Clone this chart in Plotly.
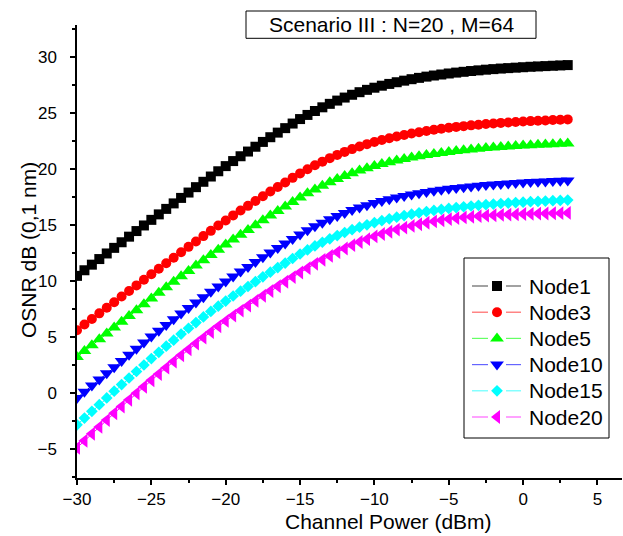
import plotly.graph_objects as go

# Channel power sweep (dBm)
channel_power = [
    -30.0, -29.5, -29.0, -28.5, -28.0, -27.5, -27.0, -26.5, -26.0, -25.5,
    -25.0, -24.5, -24.0, -23.5, -23.0, -22.5, -22.0, -21.5, -21.0, -20.5,
    -20.0, -19.5, -19.0, -18.5, -18.0, -17.5, -17.0, -16.5, -16.0, -15.5,
    -15.0, -14.5, -14.0, -13.5, -13.0, -12.5, -12.0, -11.5, -11.0, -10.5,
    -10.0, -9.5, -9.0, -8.5, -8.0, -7.5, -7.0, -6.5, -6.0, -5.5,
    -5.0, -4.5, -4.0, -3.5, -3.0, -2.5, -2.0, -1.5, -1.0, -0.5,
    0.0, 0.5, 1.0, 1.5, 2.0, 2.5, 3.0,
]

# OSNR (dB, 0.1 nm) per node
node1 = [
    10.50, 11.00, 11.50, 12.00, 12.50, 13.00, 13.50, 14.00, 14.50, 15.00,
    15.50, 15.99, 16.48, 16.97, 17.46, 17.94, 18.42, 18.90, 19.37, 19.84,
    20.30, 20.75, 21.18, 21.60, 22.03, 22.46, 22.88, 23.29, 23.69, 24.10,
    24.50, 24.87, 25.22, 25.55, 25.86, 26.15, 26.42, 26.67, 26.90, 27.11,
    27.30, 27.48, 27.64, 27.79, 27.93, 28.06, 28.18, 28.29, 28.39, 28.48,
    28.57, 28.65, 28.72, 28.79, 28.85, 28.91, 28.96, 29.01, 29.05, 29.09,
    29.13, 29.17, 29.20, 29.23, 29.26, 29.29, 29.32,
]
node3 = [
    5.65, 6.15, 6.65, 7.15, 7.65, 8.15, 8.65, 9.15, 9.65, 10.15,
    10.65, 11.14, 11.63, 12.12, 12.61, 13.09, 13.57, 14.05, 14.52, 14.99,
    15.45, 15.90, 16.33, 16.75, 17.18, 17.61, 18.03, 18.44, 18.84, 19.25,
    19.65, 20.02, 20.37, 20.70, 21.01, 21.30, 21.57, 21.82, 22.05, 22.26,
    22.45, 22.63, 22.79, 22.94, 23.08, 23.21, 23.33, 23.44, 23.54, 23.63,
    23.72, 23.80, 23.87, 23.94, 24.00, 24.06, 24.11, 24.16, 24.20, 24.24,
    24.28, 24.32, 24.35, 24.38, 24.41, 24.44, 24.47,
]
node5 = [
    3.25, 3.78, 4.30, 4.83, 5.35, 5.88, 6.40, 6.92, 7.44, 7.96,
    8.48, 8.99, 9.48, 9.97, 10.46, 10.94, 11.42, 11.90, 12.37, 12.84,
    13.30, 13.75, 14.18, 14.60, 15.03, 15.46, 15.88, 16.29, 16.69, 17.10,
    17.50, 17.87, 18.22, 18.55, 18.86, 19.15, 19.42, 19.67, 19.90, 20.11,
    20.30, 20.48, 20.64, 20.79, 20.93, 21.06, 21.18, 21.29, 21.39, 21.48,
    21.57, 21.65, 21.72, 21.79, 21.85, 21.91, 21.96, 22.01, 22.05, 22.09,
    22.13, 22.17, 22.20, 22.23, 22.26, 22.29, 22.32,
]
node10 = [
    -0.40, 0.15, 0.70, 1.25, 1.80, 2.35, 2.90, 3.45, 4.00, 4.54,
    5.08, 5.60, 6.12, 6.63, 7.14, 7.64, 8.12, 8.60, 9.07, 9.54,
    10.00, 10.45, 10.88, 11.30, 11.73, 12.16, 12.58, 12.99, 13.39, 13.80,
    14.20, 14.57, 14.92, 15.25, 15.56, 15.85, 16.12, 16.37, 16.60, 16.81,
    17.00, 17.18, 17.34, 17.49, 17.63, 17.76, 17.88, 17.99, 18.09, 18.18,
    18.27, 18.35, 18.42, 18.49, 18.55, 18.61, 18.66, 18.71, 18.75, 18.79,
    18.83, 18.87, 18.90, 18.93, 18.96, 18.99, 19.02,
]
node15 = [
    -2.80, -2.20, -1.60, -1.00, -0.40, 0.20, 0.79, 1.38, 1.96, 2.54,
    3.11, 3.67, 4.22, 4.76, 5.30, 5.82, 6.33, 6.83, 7.32, 7.79,
    8.25, 8.70, 9.13, 9.55, 9.98, 10.41, 10.83, 11.24, 11.64, 12.05,
    12.45, 12.82, 13.17, 13.50, 13.81, 14.10, 14.37, 14.62, 14.85, 15.06,
    15.25, 15.43, 15.59, 15.74, 15.88, 16.01, 16.13, 16.24, 16.34, 16.43,
    16.52, 16.60, 16.67, 16.74, 16.80, 16.86, 16.91, 16.96, 17.00, 17.04,
    17.08, 17.12, 17.15, 17.18, 17.21, 17.24, 17.27,
]
node20 = [
    -4.85, -4.22, -3.60, -2.99, -2.38, -1.77, -1.17, -0.57, 0.02, 0.60,
    1.18, 1.74, 2.30, 2.85, 3.40, 3.93, 4.46, 4.98, 5.49, 5.99,
    6.48, 6.95, 7.40, 7.84, 8.28, 8.72, 9.15, 9.57, 9.97, 10.39,
    10.80, 11.19, 11.57, 11.93, 12.28, 12.62, 12.94, 13.24, 13.52, 13.78,
    14.02, 14.24, 14.44, 14.63, 14.81, 14.96, 15.11, 15.24, 15.36, 15.47,
    15.57, 15.65, 15.72, 15.78, 15.83, 15.88, 15.91, 15.95, 15.97, 15.99,
    16.02, 16.04, 16.06, 16.07, 16.09, 16.10, 16.12,
]

series = [
    ("Node1", node1, "#000000", "square", 10),
    ("Node3", node3, "#FF0000", "circle", 10),
    ("Node5", node5, "#00FF00", "triangle-up", 12),
    ("Node10", node10, "#0000FF", "triangle-down", 12),
    ("Node15", node15, "#00FFFF", "diamond", 9),
    ("Node20", node20, "#FF00FF", "triangle-left", 12),
]

FONT = "Liberation Sans, Arial, sans-serif"

# Plot area in page pixels
PX_LEFT, PX_RIGHT, PX_TOP, PX_BOTTOM = 77, 622, 25, 478
W, H = 623, 536

fig = go.Figure()
for name, values, color, symbol, size in series:
    fig.add_trace(go.Scatter(
        x=channel_power, y=values, name=name, mode="lines+markers",
        line=dict(color=color, width=1),
        marker=dict(symbol=symbol, size=size, color=color, line=dict(width=0)),
        showlegend=False,
    ))

# Legend box drawn on a pixel-space overlay axis pair
LEG_BOX = dict(x0=464, x1=609, y0=258, y1=438)
LEG_ROW0, LEG_ROW_STEP = 286, 26.2
LEG_SEGMENTS = [(472, 488), (506, 521)]
LEG_MARK_X, LEG_TEXT_X = 497, 527

shapes = [
    dict(type="rect", xref="x2", yref="y2", **LEG_BOX,
         line=dict(color="black", width=1), fillcolor="white", layer="below"),
    dict(type="rect", xref="paper", yref="paper",
         x0=(246 - PX_LEFT) / (PX_RIGHT - PX_LEFT), x1=(536 - PX_LEFT) / (PX_RIGHT - PX_LEFT),
         y0=(PX_BOTTOM - 38.3) / (PX_BOTTOM - PX_TOP), y1=(PX_BOTTOM - 11) / (PX_BOTTOM - PX_TOP),
         line=dict(color="black", width=1), fillcolor="white", layer="above"),
]
annotations = []
for i, (name, values, color, symbol, size) in enumerate(series):
    row_y = LEG_ROW0 + i * LEG_ROW_STEP
    for sx0, sx1 in LEG_SEGMENTS:
        shapes.append(dict(type="line", xref="x2", yref="y2",
                           x0=sx0, x1=sx1, y0=row_y, y1=row_y,
                           line=dict(color=color, width=1.2), opacity=0.6, layer="below"))
    fig.add_trace(go.Scatter(
        x=[LEG_MARK_X], y=[row_y], xaxis="x2", yaxis="y2", mode="markers",
        marker=dict(symbol=symbol, size=size, color=color, line=dict(width=0)),
        showlegend=False, hoverinfo="skip",
    ))
    annotations.append(dict(
        text=name, xref="x2", yref="y2", x=LEG_TEXT_X, y=row_y,
        xanchor="left", yanchor="middle", showarrow=False,
        font=dict(family=FONT, size=21, color="black"),
    ))

annotations += [
    dict(text="Scenario III : N=20 , M=64", xref="paper", yref="paper",
         x=(391 - PX_LEFT) / (PX_RIGHT - PX_LEFT), y=(PX_BOTTOM - 24.6) / (PX_BOTTOM - PX_TOP),
         xanchor="center", yanchor="middle",
         showarrow=False, font=dict(family=FONT, size=21, color="black")),
    dict(text="Channel Power (dBm)", xref="paper", yref="paper",
         x=(388 - PX_LEFT) / (PX_RIGHT - PX_LEFT), y=(PX_BOTTOM - 521) / (PX_BOTTOM - PX_TOP),
         xanchor="center", yanchor="middle",
         showarrow=False, font=dict(family=FONT, size=21, color="black")),
    dict(text="OSNR dB (0,1 nm)", xref="paper", yref="paper",
         x=(28 - PX_LEFT) / (PX_RIGHT - PX_LEFT), y=(PX_BOTTOM - 250) / (PX_BOTTOM - PX_TOP),
         xanchor="center", yanchor="middle", textangle=-90,
         showarrow=False, font=dict(family=FONT, size=21, color="black")),
]

axis_common = dict(
    showgrid=False, zeroline=False, showline=True, linecolor="black",
    linewidth=1.5, ticks="outside", ticklen=5, tickwidth=1.5, tickcolor="black",
    tickfont=dict(family=FONT, size=17, color="black"),
    minor=dict(ticks="outside", ticklen=3, tickwidth=1.5, tickcolor="black", dtick=2.5),
    dtick=5, tick0=0,
)
fig.update_xaxes(range=[-30, 6.65], **axis_common)
fig.update_yaxes(range=[-7.55, 32.9], ticklabelstandoff=10, **axis_common)

fig.update_layout(
    width=W, height=H,
    margin=dict(l=PX_LEFT, r=W - PX_RIGHT, t=PX_TOP, b=H - PX_BOTTOM, pad=0),
    paper_bgcolor="white", plot_bgcolor="white",
    font=dict(family=FONT, color="black"),
    showlegend=False,
    xaxis2=dict(overlaying="x", range=[PX_LEFT, PX_RIGHT], visible=False, fixedrange=True),
    yaxis2=dict(overlaying="y", range=[PX_BOTTOM, PX_TOP], visible=False, fixedrange=True),
    shapes=shapes,
    annotations=annotations,
)

fig.write_html("out.html")
